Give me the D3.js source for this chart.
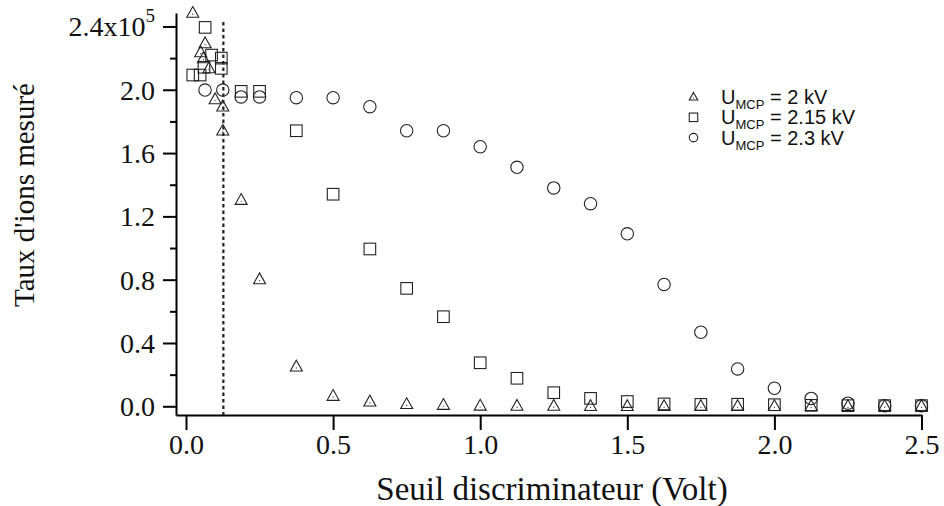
<!DOCTYPE html>
<html>
<head>
<meta charset="utf-8">
<script src="https://cdn.jsdelivr.net/npm/d3@7"></script>
<style>
  html, body { margin: 0; padding: 0; background: #fff; }
  svg { display: block; }
</style>
</head>
<body>
<svg id="chart" width="944" height="506"></svg>
<script>
// Discriminator threshold (V) and measured ion rate (x10^5) for three MCP voltages
const seuil2kV = [0.023, 0.065, 0.05, 0.059, 0.078, 0.099, 0.125, 0.125, 0.1875, 0.25, 0.375, 0.5, 0.625, 0.75, 0.875, 1.0, 1.125, 1.25, 1.375, 1.5, 1.625, 1.75, 1.875, 2.0, 2.125, 2.25, 2.375, 2.5];
const taux2kV  = [2.485, 2.293, 2.236, 2.198, 2.135, 1.939, 1.893, 1.741, 1.303, 0.802, 0.25, 0.065, 0.029, 0.013, 0.008, 0.003, 0.002, 0.002, 0.001, 0.001, 0.001, 0.001, 0.001, 0.001, 0.001, 0.001, 0.001, 0.001];

const seuil215kV = [0.023, 0.048, 0.061, 0.065, 0.087, 0.12, 0.12, 0.1875, 0.25, 0.375, 0.5, 0.625, 0.75, 0.875, 1.0, 1.125, 1.25, 1.375, 1.5, 1.625, 1.75, 1.875, 2.0, 2.125, 2.25, 2.375, 2.5];
const taux215kV  = [2.093, 2.093, 2.142, 2.394, 2.219, 2.20, 2.135, 1.99, 1.99, 1.741, 1.34, 0.994, 0.745, 0.566, 0.275, 0.177, 0.086, 0.05, 0.03, 0.015, 0.012, 0.013, 0.01, 0.006, 0.004, 0.004, 0.004];

const seuil23kV = [0.0646, 0.125, 0.1875, 0.25, 0.375, 0.5, 0.625, 0.75, 0.875, 1.0, 1.125, 1.25, 1.375, 1.5, 1.625, 1.75, 1.875, 2.0, 2.125, 2.25, 2.375, 2.5];
const taux23kV  = [1.998, 1.998, 1.955, 1.955, 1.95, 1.95, 1.893, 1.741, 1.741, 1.64, 1.51, 1.38, 1.28, 1.09, 0.77, 0.468, 0.236, 0.114, 0.05, 0.02, 0.004, 0.003];

const seriesLabels = ["2 kV", "2.15 kV", "2.3 kV"];
const xTicks = [0, 0.5, 1.0, 1.5, 2.0, 2.5];
const xTickLabels = ["0.0", "0.5", "1.0", "1.5", "2.0", "2.5"];
const yMajor = [0, 0.4, 0.8, 1.2, 1.6, 2.0, 2.4];
const yTickLabels = ["0.0", "0.4", "0.8", "1.2", "1.6", "2.0", "2.4x10"];
const yMinor = [0.2, 0.6, 1.0, 1.4, 1.8, 2.2];
const seuilMarque = 0.127;

const svg = d3.select("#chart");
const serif = "'Liberation Serif', 'Times New Roman', serif";
const sans = "'Liberation Sans', Arial, Helvetica, sans-serif";

const x = d3.scaleLinear().domain([-0.034, 2.5]).range([176, 921.5]);
const y = d3.scaleLinear().domain([-0.055, 2.485]).range([415, 13]);

// Axes
const xAxis = svg.append("g")
  .attr("transform", `translate(0,${y.range()[0]})`)
  .call(d3.axisBottom(x).tickValues(xTicks).tickSize(15).tickSizeOuter(0)
    .tickFormat((d, i) => xTickLabels[i]));
xAxis.select(".domain").attr("stroke-width", 2).attr("stroke", "#000");
xAxis.selectAll(".tick line").attr("stroke-width", 2).attr("stroke", "#000");
xAxis.selectAll(".tick text")
  .attr("font-family", serif).attr("font-size", 28).attr("fill", "#111")
  .attr("dy", "0.71em").attr("y", 19);

const yAxis = svg.append("g")
  .attr("transform", `translate(${x.range()[0]},0)`)
  .call(d3.axisLeft(y).tickValues(yMajor).tickSize(13).tickSizeOuter(0)
    .tickFormat((d, i) => yTickLabels[i]));
yAxis.select(".domain").attr("stroke-width", 2).attr("stroke", "#000");
yAxis.selectAll(".tick line").attr("stroke-width", 2).attr("stroke", "#000");
yAxis.selectAll(".tick text")
  .attr("font-family", serif).attr("font-size", 28).attr("fill", "#111")
  .attr("x", -21).attr("dy", "0.34em");
yAxis.selectAll(".tick text").filter(d => d === 2.4)
  .append("tspan").text("5").attr("font-size", 19).attr("dy", "-0.75em");

const yMinorAxis = svg.append("g")
  .attr("transform", `translate(${x.range()[0]},0)`)
  .call(d3.axisLeft(y).tickValues(yMinor).tickSize(6).tickSizeOuter(0).tickFormat(""));
yMinorAxis.select(".domain").remove();
yMinorAxis.selectAll(".tick line").attr("stroke-width", 2).attr("stroke", "#000");

// Axis titles
svg.append("text")
  .attr("x", 552).attr("y", 500)
  .attr("text-anchor", "middle")
  .attr("font-family", serif).attr("font-size", 33).attr("fill", "#111")
  .text("Seuil discriminateur (Volt)");

svg.append("text")
  .attr("transform", "translate(34,195) rotate(-90)")
  .attr("text-anchor", "middle")
  .attr("font-family", serif).attr("font-size", 29).attr("fill", "#111")
  .text("Taux d'ions mesuré");

// Threshold marker
svg.append("line")
  .attr("x1", x(seuilMarque)).attr("x2", x(seuilMarque))
  .attr("y1", 22).attr("y2", y.range()[0])
  .attr("stroke", "#222").attr("stroke-width", 2.2)
  .attr("stroke-dasharray", "3.5,3");

// Marker shapes
function triPath(s) {
  const h = s * 0.9;
  return `M0,${-h * 0.6}L${s / 2},${h * 0.4}L${-s / 2},${h * 0.4}Z`;
}
const markerStroke = "#222";

function drawTriangle(g, cx, cy, s) {
  const t = g.append("g").attr("transform", `translate(${cx},${cy})`);
  t.append("path").attr("d", triPath(s))
    .attr("fill", "none").attr("stroke", markerStroke).attr("stroke-width", 1.1);
  t.append("circle").attr("r", 0.6).attr("cy", s * 0.1).attr("fill", markerStroke);
}
function drawSquare(g, cx, cy, s) {
  g.append("rect").attr("x", cx - s / 2).attr("y", cy - s / 2)
    .attr("width", s).attr("height", s)
    .attr("fill", "none").attr("stroke", markerStroke).attr("stroke-width", 1.1);
}
function drawCircle(g, cx, cy, s) {
  g.append("circle").attr("cx", cx).attr("cy", cy).attr("r", s / 2)
    .attr("fill", "none").attr("stroke", markerStroke).attr("stroke-width", 1.1);
}

const marks = svg.append("g");
seuil23kV.forEach((v, i) => drawCircle(marks, x(v), y(taux23kV[i]), 12.4));
seuil215kV.forEach((v, i) => drawSquare(marks, x(v), y(taux215kV[i]), 11.6));
seuil2kV.forEach((v, i) => drawTriangle(marks, x(v), y(taux2kV[i]), 12));

// Legend
const legendDraw = [drawTriangle, drawSquare, drawCircle];
const legend = svg.append("g");
seriesLabels.forEach((lab, i) => {
  const cy = 97 + i * 20.3;
  legendDraw[i](legend, 693.5, cy, 8.5);
  const t = legend.append("text")
    .attr("x", 721).attr("y", cy + 7)
    .attr("font-family", sans).attr("font-size", 20).attr("fill", "#111");
  t.append("tspan").text("U");
  t.append("tspan").text("MCP").attr("font-size", 13).attr("dy", 5);
  t.append("tspan").text("= " + lab).attr("x", 770).attr("dy", -5);
});
</script>
</body>
</html>
